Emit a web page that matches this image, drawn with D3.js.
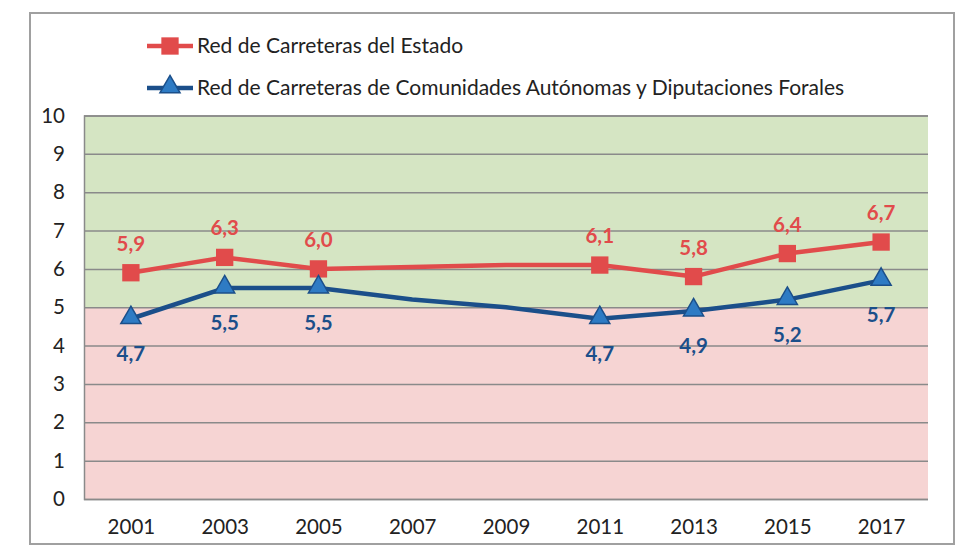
<!DOCTYPE html>
<html><head><meta charset="utf-8">
<script src="https://cdn.jsdelivr.net/npm/d3@7"></script>
<style>body{margin:0;background:#fff}text{font-family:Lato,"Open Sans",sans-serif}</style>
</head><body><svg id="c" width="980" height="550"></svg>
<script>
const years = ["2001","2003","2005","2007","2009","2011","2013","2015","2017"];
const estado = [5.9, 6.3, 6.0, 6.05, 6.1, 6.1, 5.8, 6.4, 6.7];
const autonomicas = [4.7, 5.5, 5.5, 5.2, 5.0, 4.7, 4.9, 5.2, 5.7];
const estadoLabeled = [true, true, true, false, false, true, true, true, true];
const autoLabeled = [true, true, true, false, false, true, true, true, true];
const yTicks = [0,1,2,3,4,5,6,7,8,9,10];
const seriesNames = ["Red de Carreteras del Estado", "Red de Carreteras de Comunidades Autónomas y Diputaciones Forales"];

const svg = d3.select("#c");
const L = 84, R = 928, T = 115.5, B = 499;
const x = d3.scalePoint().domain(years).range([L, R]).padding(0.5);
const y = d3.scaleLinear().domain([0, 10]).range([B, T]);
const red = "#E14B4B", navy = "#1B4F8A", triFill = "#2E7BC4";
const fmt = v => d3.format(".1f")(v).replace(".", ",");
const FS = 20.5;

// frame
svg.append("rect").attr("x", 30).attr("y", 13).attr("width", 924).attr("height", 531)
  .attr("fill", "#fff").attr("stroke", "#a0a0a0").attr("stroke-width", 2);

// backgrounds
svg.append("rect").attr("x", L).attr("y", y(10)).attr("width", R - L).attr("height", y(5) - y(10)).attr("fill", "#D5E5C3");
svg.append("rect").attr("x", L).attr("y", y(5)).attr("width", R - L).attr("height", y(0) - y(5)).attr("fill", "#F6D4D3");

// grid
const yAxis = d3.axisLeft(y).tickValues(yTicks).tickSize(-(R - L)).tickPadding(19).tickFormat(d3.format("d"));
const gy = svg.append("g").attr("transform", `translate(${L},0)`).call(yAxis);
gy.select(".domain").attr("stroke", "#8a8a8a").attr("stroke-width", 1.5);
gy.selectAll(".tick line").attr("stroke", "#8a8a8a").attr("stroke-width", 1.5);
gy.selectAll(".tick text").attr("font-size", FS).attr("fill", "#222").attr("font-family", "Lato,'Open Sans',sans-serif");

const xAxis = d3.axisBottom(x).tickSize(0).tickPadding(20);
const gx = svg.append("g").attr("transform", `translate(0,${B})`).call(xAxis);
gx.select(".domain").remove();
gx.selectAll(".tick text").attr("font-size", FS).attr("fill", "#222").attr("font-family", "Lato,'Open Sans',sans-serif");

const line = d3.line().x((d, i) => x(years[i])).y(d => y(d));
svg.append("path").datum(estado).attr("d", line).attr("fill", "none").attr("stroke", red).attr("stroke-width", 4.5).attr("stroke-linejoin", "round");
svg.append("path").datum(autonomicas).attr("d", line).attr("fill", "none").attr("stroke", navy).attr("stroke-width", 4.5).attr("stroke-linejoin", "round");

const sq = d3.symbol().type(d3.symbolSquare).size(300);
const tri = d3.symbol().type(d3.symbolTriangle).size(175);

svg.selectAll(".sq").data(estado.map((v, i) => ({v, i})).filter(d => estadoLabeled[d.i])).enter()
  .append("path").attr("d", sq).attr("transform", d => `translate(${x(years[d.i])},${y(d.v)})`).attr("fill", red);
svg.selectAll(".tri").data(autonomicas.map((v, i) => ({v, i})).filter(d => autoLabeled[d.i])).enter()
  .append("path").attr("d", tri).attr("transform", d => `translate(${x(years[d.i])},${y(d.v) - 1})`)
  .attr("fill", triFill).attr("stroke", navy).attr("stroke-width", 1.5);

svg.selectAll(".lr").data(estado.map((v, i) => ({v, i})).filter(d => estadoLabeled[d.i])).enter()
  .append("text").attr("x", d => x(years[d.i])).attr("y", d => y(d.v) - 22)
  .attr("text-anchor", "middle").attr("font-size", FS).attr("font-weight", "bold").attr("fill", red).text(d => fmt(d.v));
svg.selectAll(".lb").data(autonomicas.map((v, i) => ({v, i})).filter(d => autoLabeled[d.i])).enter()
  .append("text").attr("x", d => x(years[d.i])).attr("y", d => y(d.v) + 42)
  .attr("text-anchor", "middle").attr("font-size", FS).attr("font-weight", "bold").attr("fill", navy).text(d => fmt(d.v));

// legend
const lg = [{name: seriesNames[0], c: red, sym: sq, fill: red, stroke: "none", y: 46},
            {name: seriesNames[1], c: navy, sym: tri, fill: triFill, stroke: navy, y: 88}];
lg.forEach(d => {
  svg.append("line").attr("x1", 147).attr("x2", 193).attr("y1", d.y).attr("y2", d.y).attr("stroke", d.c).attr("stroke-width", 4.5);
  svg.append("path").attr("d", d.sym).attr("transform", `translate(170,${d.y - (d.sym === tri ? 1 : 0)})`).attr("fill", d.fill).attr("stroke", d.stroke).attr("stroke-width", 1.5);
  svg.append("text").attr("x", 197).attr("y", d.y + 7).attr("font-size", 21).attr("fill", "#222").text(d.name);
});
</script></body></html>
